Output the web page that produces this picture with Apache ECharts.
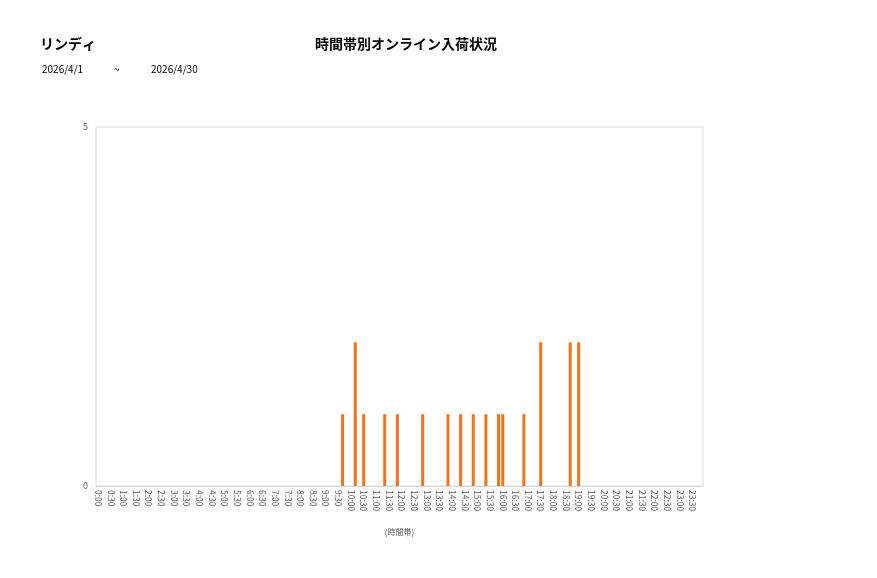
<!DOCTYPE html>
<html>
<head>
<meta charset="utf-8">
<script src="https://cdn.jsdelivr.net/npm/echarts@6/dist/echarts.min.js"></script>
<style>
html,body{margin:0;padding:0;background:#fff;}
#chart{width:877px;height:578px;}
</style>
</head>
<body>
<div id="chart"></div>
<script>
// 10-minute time slots 0:00 .. 23:50
var categories = [];
for (var h = 0; h < 24; h++) {
  for (var m = 0; m < 60; m += 10) {
    categories.push(h + ':' + (m < 10 ? '0' + m : m));
  }
}
// slots that have arrivals and their counts
var arrivalSlots = ['9:40','10:10','10:30','11:20','11:50','12:50','13:50','14:20','14:50','15:20','15:50','16:00','16:50','17:30','18:40','19:00'];
var arrivalCounts = [1, 2, 1, 1, 1, 1, 1, 1, 1, 1, 1, 1, 1, 2, 2, 2];
var yTicks = [0, 5];

var values = categories.map(function (c) {
  var idx = arrivalSlots.indexOf(c);
  return idx >= 0 ? arrivalCounts[idx] : 0;
});

var chart = echarts.init(document.getElementById('chart'));
var font = '"Noto Sans CJK JP", "Noto Sans", sans-serif';
chart.setOption({
  animation: false,
  backgroundColor: '#ffffff',
  textStyle: { fontFamily: font },
  title: [
    { text: 'リンディ', left: 40, top: 37, padding: 0, textStyle: { fontFamily: font, fontSize: 14, fontWeight: 'bold', color: '#000' } },
    { text: '時間帯別オンライン入荷状況', left: 406, top: 37, padding: 0, textAlign: 'center', textStyle: { fontFamily: font, fontSize: 14, fontWeight: 'bold', color: '#000' } },
    { text: '2026/4/1', left: 42, top: 64, padding: 0, textStyle: { fontFamily: font, fontSize: 10, fontWeight: 'normal', color: '#000' } },
    { text: '~', left: 114, top: 64, padding: 0, textStyle: { fontFamily: font, fontSize: 10, fontWeight: 'normal', color: '#000' } },
    { text: '2026/4/30', left: 151, top: 64, padding: 0, textStyle: { fontFamily: font, fontSize: 10, fontWeight: 'normal', color: '#000' } }
  ],
  grid: { left: 96, right: 174, top: 127, bottom: 92, show: true, borderColor: '#d9d9d9', borderWidth: 1 },
  xAxis: {
    type: 'category',
    data: categories,
    name: '(時間帯)',
    nameLocation: 'middle',
    nameGap: 42,
    nameTextStyle: { fontSize: 8, color: '#595959' },
    axisLine: { lineStyle: { color: '#d9d9d9' } },
    axisTick: { show: false },
    axisLabel: { interval: 2, rotate: -90, fontSize: 8.5, color: '#595959', margin: 4 },
    splitLine: { show: false }
  },
  yAxis: {
    type: 'value',
    min: yTicks[0],
    max: yTicks[1],
    interval: yTicks[1] - yTicks[0],
    axisLine: { show: false },
    axisTick: { show: false },
    splitLine: { show: false },
    axisLabel: { fontSize: 9, color: '#595959', margin: 8 }
  },
  series: [{
    type: 'bar',
    data: values,
    barWidth: 3,
    itemStyle: { color: '#F4731C' }
  }]
});
</script>
</body>
</html>
